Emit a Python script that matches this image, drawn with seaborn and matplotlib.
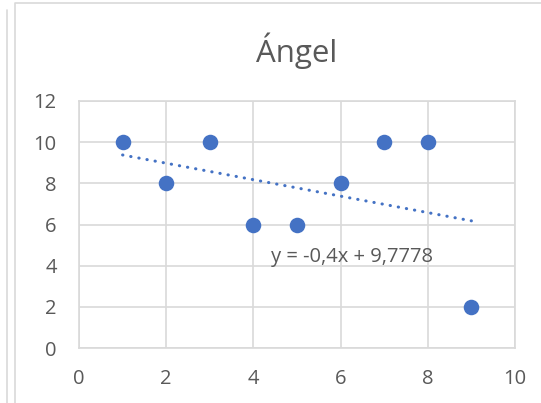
import numpy as np
import pandas as pd
import seaborn as sns
import matplotlib.pyplot as plt
from matplotlib.lines import Line2D

# Datos
x_vals = [1, 2, 3, 4, 5, 6, 7, 8, 9]
y_vals = [10, 8, 10, 6, 6, 8, 10, 10, 2]
x_ticks = [0, 2, 4, 6, 8, 10]
y_ticks = [0, 2, 4, 6, 8, 10, 12]
titulo = "Ángel"

df = pd.DataFrame({"x": x_vals, "y": y_vals})

# Linea de tendencia lineal
m, b = np.polyfit(df["x"], df["y"], 1)
df_trend = pd.DataFrame({"x": [min(x_vals), max(x_vals)]})
df_trend["y"] = m * df_trend["x"] + b

sns.set_style("white")
plt.rcParams['font.family'] = ['Open Sans', 'DejaVu Sans']

gris = "#595959"
azul = "#4472C4"
linea = "#d9d9d9"

fig = plt.figure(figsize=(5.41, 4.03), dpi=100)
ax = fig.add_axes([79 / 541, 1 - 348 / 403, (515 - 79) / 541, (348 - 101) / 403])

sns.lineplot(data=df_trend, x="x", y="y", ax=ax, color=azul, linewidth=2.2,
             linestyle=(0, (0.1, 2.6)), dash_capstyle="round", zorder=2)
sns.scatterplot(data=df, x="x", y="y", ax=ax, color=azul, s=125,
                edgecolor=azul, linewidth=0, zorder=3)

ax.set_xlim(0, 10)
ax.set_ylim(0, 12)
ax.set_xticks(x_ticks)
ax.set_yticks(y_ticks)
ax.grid(True, color=linea, linewidth=1.2, zorder=0)
ax.set_axisbelow(True)
for s in ax.spines.values():
    s.set_color(linea)
    s.set_linewidth(1.2)
ax.tick_params(axis="x", colors=gris, labelsize=14.5, length=0, pad=15)
ax.tick_params(axis="y", colors=gris, labelsize=14.5, length=0, pad=16)
ax.set_xlabel("")
ax.set_ylabel("")

ax.set_title(titulo, fontsize=22.5, color=gris, pad=28)

ecuacion = "y = " + f"{m:.1f}".replace(".", ",") + "x + " + f"{b:.4f}".replace(".", ",")
ax.text(6.26, 4.42, ecuacion, fontsize=14.5, color=gris, ha="center", va="center")

# Bordes del grafico
fig.add_artist(Line2D([15 / 541, 15 / 541, 1], [0, 1 - 3 / 403, 1 - 3 / 403],
                      color=linea, linewidth=1.2))
fig.add_artist(Line2D([7 / 541, 7 / 541], [0, 1 - 10 / 403], color=linea, linewidth=1.2))

fig.savefig("out.png", dpi=100)
